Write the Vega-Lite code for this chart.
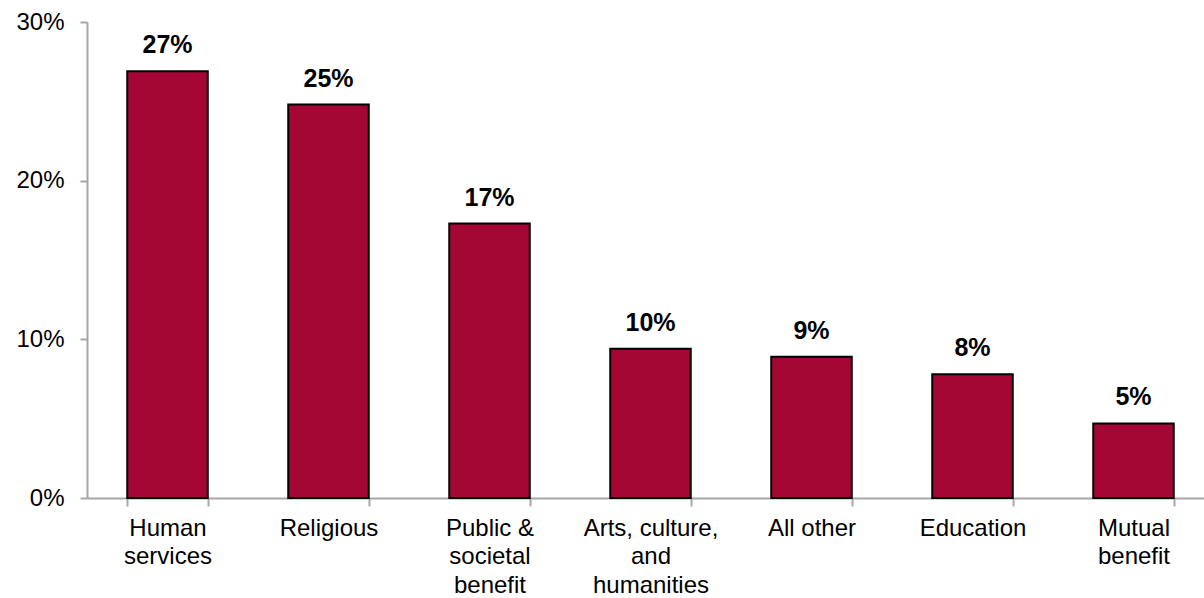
{
  "$schema": "https://vega.github.io/schema/vega-lite/v6.json",
  "autosize": {"type": "none"},
  "width": 1117,
  "height": 476,
  "padding": {"left": 87, "top": 22, "right": 0, "bottom": 100},
  "background": "white",
  "config": {"view": {"stroke": null}, "font": "Liberation Sans"},
  "data": {
    "values": [
      {"category": "Human|services", "share": 0.269, "label": "27%"},
      {"category": "Religious", "share": 0.248, "label": "25%"},
      {"category": "Public &|societal|benefit", "share": 0.173, "label": "17%"},
      {"category": "Arts, culture,|and|humanities", "share": 0.094, "label": "10%"},
      {"category": "All other", "share": 0.089, "label": "9%"},
      {"category": "Education", "share": 0.078, "label": "8%"},
      {"category": "Mutual|benefit", "share": 0.047, "label": "5%"}
    ]
  },
  "encoding": {
    "x": {
      "field": "category",
      "type": "nominal",
      "sort": null,
      "scale": {"range": [0, 1127], "paddingInner": 0.5, "paddingOuter": 0.25},
      "axis": {
        "title": null,
        "labelAngle": 0,
        "labelExpr": "split(datum.label, '|')",
        "labelFontSize": 24,
        "labelLineHeight": 28.5,
        "labelColor": "#000000",
        "labelPadding": 10,
        "labelBaseline": "top",
        "tickBand": "extent",
        "tickSize": 8,
        "tickWidth": 2,
        "tickColor": "#A6A6A6",
        "domainColor": "#A6A6A6",
        "domainWidth": 2,
        "labelLimit": 300
      }
    },
    "y": {
      "field": "share",
      "type": "quantitative",
      "scale": {"domain": [0, 0.3], "nice": false},
      "axis": {
        "title": null,
        "values": [0, 0.1, 0.2, 0.3],
        "format": ".0%",
        "grid": false,
        "labelFontSize": 24,
        "labelColor": "#000000",
        "labelPadding": 16,
        "tickSize": 7,
        "tickWidth": 2,
        "tickColor": "#A6A6A6",
        "domainColor": "#A6A6A6",
        "domainWidth": 2
      }
    }
  },
  "layer": [
    {
      "mark": {"type": "bar", "color": "#A50734", "stroke": "#000000", "strokeWidth": 2}
    },
    {
      "mark": {"type": "text", "baseline": "alphabetic", "dy": -18, "fontSize": 25, "fontWeight": "bold", "color": "#000000"},
      "encoding": {"text": {"field": "label"}}
    }
  ]
}
